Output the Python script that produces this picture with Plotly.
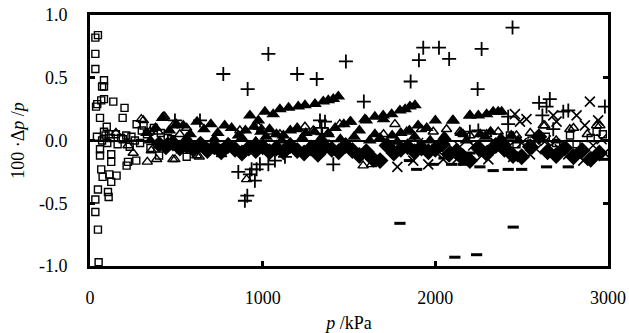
import plotly.graph_objects as go

# ---- data ----
sq_x = [46, 31, 31, 31, 81, 81, 70, 65, 81, 42, 35, 135, 200, 189, 58, 97, 81, 110,
        58, 58, 123, 123, 220, 212, 268, 65, 73, 112, 154, 123, 46, 104, 108, 31, 31, 46, 50,
        40, 70, 90, 120, 150, 180, 210, 240, 260, 300, 330, 370, 410, 450, 290, 350, 160, 100,
        400, 560, 521, 470, 230, 270, 310, 190,
        2432, 2470, 2557, 2640, 2818, 2900, 2934, 2970, 2700, 2780]
sq_y = [0.84, 0.82, 0.69, 0.57, 0.48, 0.43, 0.43, 0.32, 0.33, 0.29, 0.27, 0.31, 0.26, 0.18, 0.18, 0.11, 0.07, 0.05,
        -0.07, -0.12, -0.11, -0.17, -0.17, -0.20, -0.16, -0.23, -0.29, -0.27, -0.28, -0.33, -0.39, -0.41, -0.45, -0.47, -0.57, -0.71, -0.97,
        0.03, 0.00, 0.04, 0.02, 0.05, 0.02, 0.04, 0.03, 0.00, 0.08, 0.05, 0.10, 0.06, 0.02, -0.02, -0.06, -0.03, -0.02,
        -0.12, -0.13, -0.07, 0.01, -0.05, 0.13, 0.12, 0.01,
        0.04, -0.03, 0.00, 0.03, -0.03, 0.02, 0.07, 0.05, -0.02, 0.04]

tri_o_x = [220, 297, 309, 332, 347, 355, 386, 394, 424, 432, 451, 480, 482, 492, 520, 618, 633, 705, 762, 775,
           868, 907, 975, 994, 1033, 1197, 1245, 1293, 1447, 1506, 1582, 1631, 1766, 1834, 1920, 1988, 2065,
           2142, 2161, 2200, 2297, 2364, 2470, 2625, 2634, 2779, 2800, 2934, 2953, 150, 250, 560, 1100, 1380,
           1700, 2550, 2700, 2880]
tri_o_y = [-0.04, 0.17, 0.16, -0.17, 0.07, -0.08, -0.15, 0.07, 0.19, 0.19, -0.01, -0.15, 0.12, -0.15, 0.05, -0.12, -0.13, -0.08, -0.11, -0.07,
           0.08, -0.31, 0.11, 0.09, 0.07, 0.09, 0.11, 0.08, 0.13, 0.15, -0.20, -0.19, 0.13, 0.07, 0.09, 0.07, 0.09,
           0.07, 0.05, 0.04, 0.05, 0.07, 0.04, 0.12, 0.12, 0.09, 0.10, 0.12, 0.12, 0.06, -0.10, 0.10, 0.05, 0.06,
           0.05, 0.06, 0.00, 0.05]

tri_f_x = [330, 380, 420, 460, 500, 540, 580, 620, 660, 700, 740, 780, 820, 860, 900, 950, 990, 1040, 1080, 1120,
           1160, 1200, 1250, 1300, 1340, 1380, 1420, 1470, 1510, 1560, 1600, 1650, 1700, 1750, 1800, 1850, 1900,
           1950, 2000, 2050, 2100, 2150, 2200, 2260, 2320, 2380, 2440,
           926, 975, 1013, 1061, 1100, 1150, 1206, 1245, 1303, 1351, 1380, 1409, 1438,
           1592, 1650, 1698, 1747, 1795, 1825, 1853, 1882,
           2104, 2200, 2249, 2297, 2335, 2364, 2384,
           350, 450, 560, 640, 720, 800, 880, 960, 1020, 1110, 1230, 1320, 1450, 1530, 1620, 1680, 1780, 1880,
           1970, 2060, 2180, 2290, 2400, 2480]
tri_f_y = [0.06, 0.10, 0.18, 0.08, 0.13, 0.12, 0.05, 0.15, 0.09, 0.13, 0.06, 0.12, 0.10, 0.04, 0.08, 0.11, 0.07, 0.09, 0.05, 0.04,
           0.08, 0.10, 0.06, 0.07, 0.02, 0.05, 0.10, 0.13, 0.15, 0.08, 0.16, 0.05, 0.17, 0.04, 0.06, 0.08, 0.12,
           0.10, 0.16, 0.03, 0.16, 0.06, 0.20, 0.05, 0.07, 0.02, 0.04,
           0.20, 0.16, 0.23, 0.21, 0.25, 0.26, 0.27, 0.28, 0.29, 0.31, 0.32, 0.33, 0.35,
           0.17, 0.19, 0.20, 0.21, 0.24, 0.25, 0.27, 0.28,
           0.16, 0.20, 0.20, 0.21, 0.23, 0.23, 0.23,
           0.00, -0.02, 0.02, -0.03, 0.01, -0.02, 0.02, -0.01, 0.03, 0.00, 0.02, -0.02, 0.01, 0.03, 0.00, 0.02, -0.01, 0.03,
           0.00, 0.02, 0.00, 0.03, -0.02, 0.00]

dia_x = [400, 440, 480, 520, 560, 600, 640, 680, 720, 760, 800, 840, 880, 920, 960, 1000, 1040, 1080, 1120, 1160,
         1200, 1240, 1280, 1320, 1360, 1400, 1440, 1480, 1520, 1560, 1600, 1640, 1680, 1720, 1760, 1800, 1840,
         1880, 1920, 1960, 2000, 2040, 2080, 2120, 2160, 2200, 2250, 2300, 2350, 2400, 2450, 2500, 2550, 2600,
         2650, 2700, 2750, 2800, 2850, 2900, 2950]
dia_y = [-0.03, -0.05, -0.02, -0.06, -0.04, -0.07, -0.03, -0.08, -0.05, -0.09, -0.04, -0.07, -0.10, -0.06, -0.08, -0.05, -0.09, -0.06, -0.09, -0.04,
         -0.08, -0.10, -0.06, -0.11, -0.05, -0.07, -0.09, -0.04, -0.08, -0.12, -0.09, -0.15, -0.16, -0.04, -0.10, -0.07, -0.05,
         -0.09, -0.06, -0.09, -0.07, -0.03, -0.11, -0.09, -0.13, -0.16, -0.06, -0.10, -0.04, -0.07, -0.12, -0.13, -0.05, 0.03,
         -0.09, -0.12, -0.06, -0.13, -0.08, -0.15, -0.10]

plus_x = [772, 913, 1033, 1200, 1313, 1482, 1586, 1857, 1905, 1930, 2021, 2080, 2245, 2268, 2447,
          492, 637, 1332, 1361, 1341, 2422, 2422, 2601, 2620, 2644, 2663, 2683, 2741, 2770, 2982, 2249, 2200,
          859, 897, 911, 926, 936, 955, 965, 984, 1033, 1071, 1129, 1332, 1409, 1345, 1350, 1340]
plus_y = [0.53, 0.41, 0.69, 0.53, 0.49, 0.63, 0.31, 0.47, 0.64, 0.74, 0.74, 0.65, 0.41, 0.73, 0.90,
          0.16, 0.16, 0.16, 0.15, 0.10, 0.19, 0.13, 0.30, 0.20, 0.27, 0.33, 0.09, 0.23, 0.24, 0.27, 0.08, 0.07,
          -0.25, -0.48, -0.44, -0.27, -0.23, -0.32, -0.23, -0.19, -0.19, -0.16, -0.13, -0.07, -0.19, 0.05, 0.00, -0.03]

xm_x = [1780, 1872, 1959, 2007, 2046, 2104, 2123, 2142, 2171, 2219, 2268, 2278, 2307, 2403, 2432, 2451, 2461,
        2490, 2528, 2548, 2586, 2663, 2683, 2702, 2721, 2770, 2818, 2857, 2866, 2895, 2914, 2943, 2963, 2600,
        2500, 2350, 1900, 1820, 2980, 2640]
xm_y = [-0.21, -0.16, -0.19, -0.07, -0.15, -0.07, -0.15, -0.05, -0.16, -0.04, -0.12, -0.09, -0.15, 0.01, -0.04, -0.13, 0.21,
        0.15, 0.17, -0.11, -0.07, -0.05, 0.20, 0.15, -0.07, -0.11, 0.20, -0.16, 0.12, 0.31, -0.04, 0.16, 0.01, 0.02,
        -0.02, -0.02, -0.02, -0.05, -0.10, 0.00]

dash_x = [1795, 1892, 1988, 2094, 2113, 2161, 2239, 2258, 2335, 2422, 2451, 2500, 2644, 2770, 2982, 1850, 2050, 2200]
dash_y = [-0.66, -0.23, -0.19, -0.19, -0.93, -0.19, -0.91, -0.21, -0.24, -0.23, -0.69, -0.23, -0.21, -0.21, -0.15, -0.16, -0.14, -0.10]

x_ticks = [0, 1000, 2000, 3000]
y_ticks = [-1.0, -0.5, 0.0, 0.5, 1.0]
y_tick_text = ["-1.0", "-0.5", "0.0", "0.5", "1.0"]

FONT = "'Liberation Serif', 'DejaVu Serif', serif"
TF = dict(family=FONT, size=18, color="black")

fig = go.Figure()

def add(x, y, symbol, size, lw):
    marker = dict(symbol=symbol, size=size, color="black",
                  line=dict(color="black", width=lw))
    fig.add_trace(go.Scatter(x=x, y=y, mode="markers", marker=marker,
                             showlegend=False, hoverinfo="x+y"))

add(dia_x, dia_y, "diamond", 13, 0)
add(tri_f_x, tri_f_y, "triangle-up", 12, 0)
add(sq_x, sq_y, "square-open", 7, 1.4)
add(tri_o_x, tri_o_y, "triangle-up-open", 9, 1.4)
add(plus_x, plus_y, "cross-thin-open", 10, 1.8)
add(xm_x, xm_y, "x-thin-open", 10, 1.6)
add(dash_x, dash_y, "line-ew-open", 8, 3)

fig.update_layout(
    width=629, height=333,
    margin=dict(l=90, r=21, t=15, b=67, autoexpand=False),
    paper_bgcolor="white", plot_bgcolor="white",
    font=TF,
)
fig.update_xaxes(
    range=[0, 3000], tickvals=x_ticks, ticktext=[str(v) for v in x_ticks],
    tickfont=TF, automargin=False,
    showgrid=False, zeroline=False,
    showline=True, linecolor="black", linewidth=3, mirror=True,
    ticks="inside", ticklen=5, tickwidth=3, tickcolor="black",
    ticklabelstandoff=13,
    title=dict(text="<i>p</i> /kPa", font=TF, standoff=15),
)
fig.update_yaxes(
    range=[-1, 1], tickvals=y_ticks, ticktext=y_tick_text,
    tickfont=TF, automargin=False,
    showgrid=False, zeroline=True, zerolinecolor="black", zerolinewidth=2,
    showline=True, linecolor="black", linewidth=3, mirror="ticks",
    ticks="inside", ticklen=5, tickwidth=3, tickcolor="black",
    ticklabelstandoff=16,
    title=dict(text="100 ·Δ<i>p</i> /<i>p</i>", font=TF, standoff=10),
)

# remove the browser's default 8px page margin so the figure fills the window
fig.write_html("out.html", config={"displayModeBar": False},
               post_script="document.body.style.margin='0px';document.body.style.padding='0px';")
